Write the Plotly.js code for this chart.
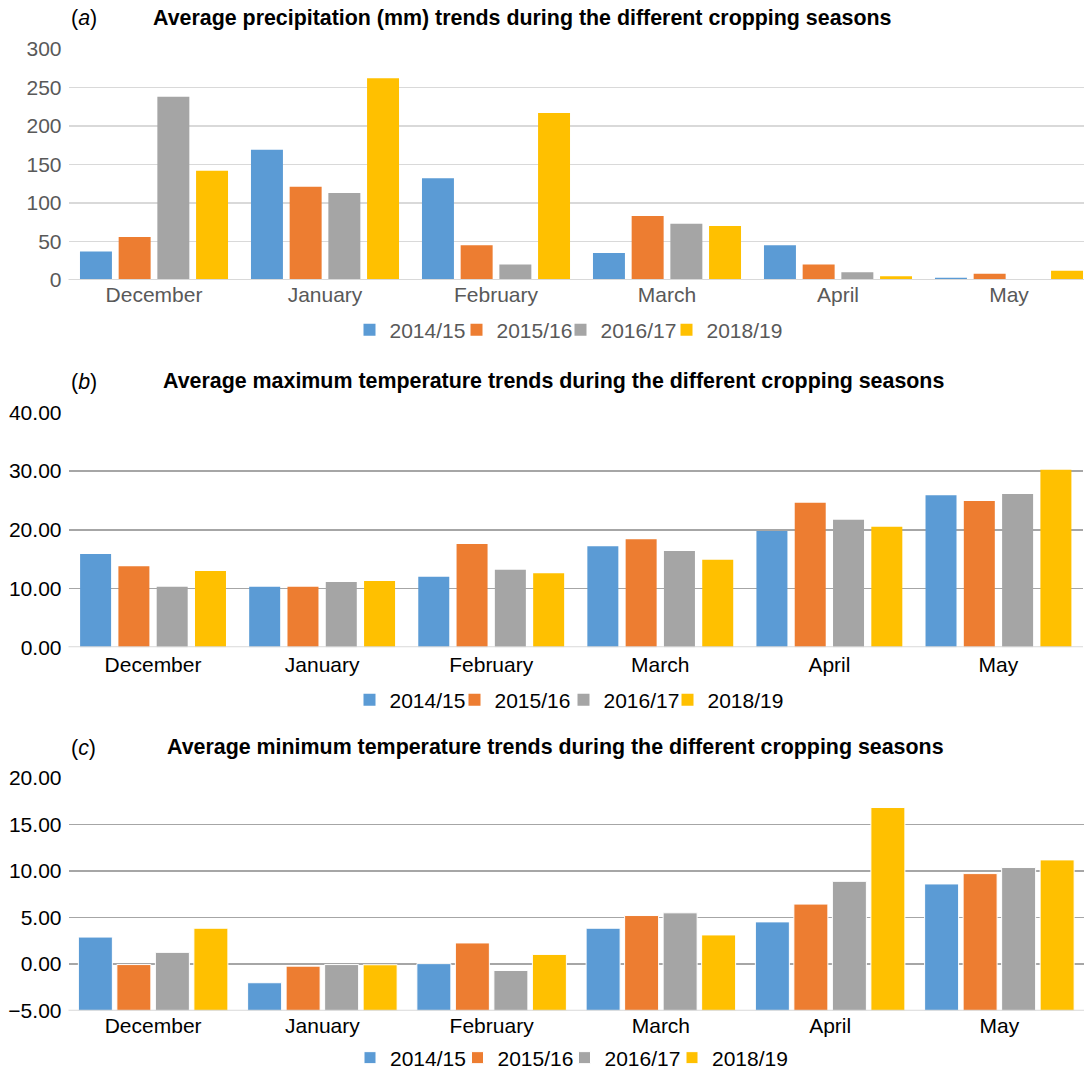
<!DOCTYPE html>
<html><head><meta charset="utf-8">
<script src="https://cdn.plot.ly/plotly-3.0.1.min.js"></script>
<style>html,body{margin:0;padding:0;background:#fff;overflow:hidden}#chart{width:1084px;height:1070px}</style>
</head><body><div id="chart"></div>
<script>
const months = ['December','January','February','March','April','May'];
const seasons = ['2014/15','2015/16','2016/17','2018/19'];
const seasonColors = ['#5B9BD5','#ED7D31','#A5A5A5','#FFC000'];

// (a) Average precipitation (mm)
const precip_2014_15 = [37, 169, 132, 35, 45, 3];
const precip_2015_16 = [56, 121, 45, 83, 20, 8];
const precip_2016_17 = [238, 113, 20, 73, 10, 1];
const precip_2018_19 = [142, 262, 217, 70, 5, 12];

// (b) Average maximum temperature
const tmax_2014_15 = [15.9, 10.3, 12.0, 17.2, 19.8, 25.9];
const tmax_2015_16 = [13.8, 10.3, 17.6, 18.4, 24.6, 24.9];
const tmax_2016_17 = [10.3, 11.1, 13.2, 16.4, 21.7, 26.1];
const tmax_2018_19 = [13.0, 11.3, 12.6, 14.9, 20.5, 30.2];

// (c) Average minimum temperature
const tmin_2014_15 = [2.9, -2.0, 0.05, 3.85, 4.53, 8.6];
const tmin_2015_16 = [-0.05, -0.22, 2.27, 5.21, 6.44, 9.71];
const tmin_2016_17 = [1.26, -0.05, -0.68, 5.5, 8.88, 10.36];
const tmin_2018_19 = [3.85, -0.07, 1.04, 3.13, 16.8, 11.18];

const titleA = 'Average precipitation (mm) trends during the different cropping seasons';
const titleB = 'Average maximum temperature trends during the different cropping seasons';
const titleC = 'Average minimum temperature trends during the different cropping seasons';

const FONT = 'Liberation Sans, Arial, sans-serif';
const W = 1084, H = 1070;
const px = v => v / W;
const py = v => 1 - v / H;

// panel styling (sizes in category units / pixels)
const panels = [
  {series: [precip_2014_15, precip_2015_16, precip_2016_17, precip_2018_19], xa: 'x', ya: 'y', base: 0, line: 0,
   step: 0.2263, width: 0.187, legendX: [372.5, 479.5, 583.5, 689.5], legendY: 330, txt: '#595959'},
  {series: [tmax_2014_15, tmax_2015_16, tmax_2016_17, tmax_2018_19], xa: 'x2', ya: 'y2', base: 0, line: 0,
   step: 0.2265, width: 0.1833, legendX: [372.5, 477.5, 586.5, 690.5], legendY: 700, txt: '#000'},
  {series: [tmin_2014_15, tmin_2015_16, tmin_2016_17, tmin_2018_19], xa: 'x3', ya: 'y3', base: -5, line: 1,
   step: 0.2275, width: 0.2009, legendX: [373, 480.5, 587.5, 695], legendY: 1058, txt: '#000'}
];

const traces = [];
const legends = {};
let li = 0;
panels.forEach(p => {
  p.series.forEach((vals, i) => {
    li++;
    const lname = li === 1 ? 'legend' : 'legend' + li;
    traces.push({
      type: 'bar', x: months,
      y: vals.map(v => v - p.base), base: p.base,
      width: p.width, offset: (i - 1.5) * p.step - p.width / 2,
      name: seasons[i], xaxis: p.xa, yaxis: p.ya, legend: lname,
      marker: {color: seasonColors[i], line: {color: '#ffffff', width: p.line}},
      hoverinfo: 'skip'
    });
    legends[lname] = {orientation: 'h', xanchor: 'left', yanchor: 'middle',
      x: px(p.legendX[i] - 23), y: py(p.legendY),
      font: {family: FONT, size: 21, color: p.txt}, bgcolor: 'rgba(0,0,0,0)',
      itemclick: false, itemdoubleclick: false, borderwidth: 0};
  });
});

const xCommon = {type: 'category', showgrid: false, ticks: '', showline: false, fixedrange: true};
const yCommon = {showgrid: true, zeroline: false, ticks: '', showline: false, fixedrange: true, ticklabelstandoff: 6};

const baseLine = (yr, yv, x1) => ({type: 'line', xref: 'paper', yref: yr, x0: px(68.5), x1: x1, y0: yv, y1: yv,
  line: {color: '#d9d9d9', width: 2}, layer: 'above'});

const layout = Object.assign({
  width: W, height: H, autosize: false,
  margin: {l: 0, r: 0, t: 0, b: 0, autoexpand: false},
  paper_bgcolor: '#fff', plot_bgcolor: '#fff',
  barmode: 'overlay',
  font: {family: FONT},
  xaxis: Object.assign({}, xCommon, {anchor: 'y', domain: [px(68.5), 1], range: [-0.5, 5.4386],
    tickfont: {family: FONT, size: 21, color: '#595959'}}),
  yaxis: Object.assign({}, yCommon, {anchor: 'x', domain: [py(280), py(49)], range: [0, 300], dtick: 50,
    gridcolor: '#d9d9d9', gridwidth: 1.5, tickfont: {family: FONT, size: 21, color: '#595959'}}),
  xaxis2: Object.assign({}, xCommon, {anchor: 'y2', domain: [px(68.5), px(1083)], range: [-0.5, 5.5], ticklabelstandoff: 3,
    tickfont: {family: FONT, size: 21, color: '#000'}}),
  yaxis2: Object.assign({}, yCommon, {anchor: 'x2', domain: [py(647.3), py(412.3)], range: [0, 40], dtick: 10,
    tickformat: '.2f', gridcolor: '#a6a6a6', gridwidth: 1.5, tickfont: {family: FONT, size: 21, color: '#000'}}),
  xaxis3: Object.assign({}, xCommon, {anchor: 'y3', domain: [px(68.5), 1], range: [-0.5, 5.5],
    tickfont: {family: FONT, size: 21, color: '#000'}}),
  yaxis3: Object.assign({}, yCommon, {anchor: 'x3', domain: [py(1010.7), py(777.7)], range: [-5, 20], dtick: 5,
    tickformat: '.2f', gridcolor: '#a6a6a6', gridwidth: 1.5, tickfont: {family: FONT, size: 21, color: '#000'}}),
  shapes: [baseLine('y', 0, 1), baseLine('y2', 0, px(1083)), baseLine('y3', -5, 1)],
  annotations: [
    {text: '(<i>a</i>)', x: px(69), y: py(18), xanchor: 'left', yanchor: 'middle', showarrow: false, xref: 'paper', yref: 'paper', font: {family: FONT, size: 21.4, color: '#000'}},
    {text: '<b>' + titleA + '</b>', x: px(522), y: py(18), xanchor: 'center', yanchor: 'middle', showarrow: false, xref: 'paper', yref: 'paper', font: {family: FONT, size: 21.4, color: '#000'}},
    {text: '(<i>b</i>)', x: px(69), y: py(382), xanchor: 'left', yanchor: 'middle', showarrow: false, xref: 'paper', yref: 'paper', font: {family: FONT, size: 21.4, color: '#000'}},
    {text: '<b>' + titleB + '</b>', x: px(553), y: py(381), xanchor: 'center', yanchor: 'middle', showarrow: false, xref: 'paper', yref: 'paper', font: {family: FONT, size: 21.4, color: '#000'}},
    {text: '(<i>c</i>)', x: px(69), y: py(748), xanchor: 'left', yanchor: 'middle', showarrow: false, xref: 'paper', yref: 'paper', font: {family: FONT, size: 21.4, color: '#000'}},
    {text: '<b>' + titleC + '</b>', x: px(555), y: py(747), xanchor: 'center', yanchor: 'middle', showarrow: false, xref: 'paper', yref: 'paper', font: {family: FONT, size: 21.4, color: '#000'}}
  ],
  showlegend: true
}, legends);

Plotly.newPlot('chart', traces, layout, {displayModeBar: false, staticPlot: true});
</script></body></html>
